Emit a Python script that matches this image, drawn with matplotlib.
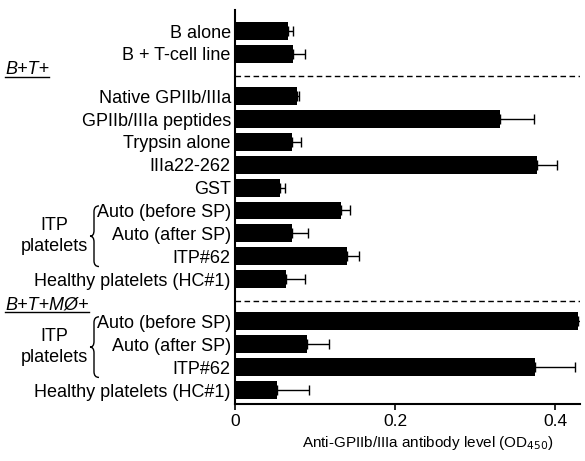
import matplotlib
matplotlib.use("Agg")
import matplotlib.pyplot as plt
import numpy as np
from matplotlib.path import Path
from matplotlib.patches import PathPatch
from matplotlib.lines import Line2D

plt.rcParams['font.family'] = ['Liberation Sans', 'DejaVu Sans']

# ---- data ----
group1_labels = ["B alone", "B + T-cell line"]
group1_values = [0.066, 0.072]
group1_errors = [0.0065, 0.016]

group2_labels = ["Native GPIIb/IIIa", "GPIIb/IIIa peptides", "Trypsin alone",
                 "IIIa22-262", "GST", "Auto (before SP)", "Auto (after SP)",
                 "ITP#62", "Healthy platelets (HC#1)"]
group2_values = [0.0775, 0.331, 0.071, 0.378, 0.056, 0.132, 0.071, 0.140, 0.064]
group2_errors = [0.002, 0.043, 0.012, 0.025, 0.006, 0.012, 0.020, 0.015, 0.023]

group3_labels = ["Auto (before SP)", "Auto (after SP)", "ITP#62",
                 "Healthy platelets (HC#1)"]
group3_values = [0.429, 0.090, 0.375, 0.053]
group3_errors = [0.007, 0.028, 0.050, 0.040]

section_titles = ["B+T+", "B+T+MØ+"]
bracket_label = "ITP\nplatelets"
xticks = [0, 0.2, 0.4]
xtick_labels = ["0", "0.2", "0.4"]
xlabel = "Anti-GPIIb/IIIa antibody level (OD$_{450}$)"

# ---- layout ----
FS = 13
groups = [(group1_labels, group1_values, group1_errors),
          (group2_labels, group2_values, group2_errors),
          (group3_labels, group3_values, group3_errors)]
labels, values, errors, pos = [], [], [], []
dash_pos = []
p = 0.0
for gi, (l, v, e) in enumerate(groups):
    if gi > 0:
        dash_pos.append(p - 1 + 0.97)
        p = p - 1 + 1.85
    for li, vi, ei in zip(l, v, e):
        labels.append(li); values.append(vi); errors.append(ei); pos.append(p)
        p += 1
pos = np.array(pos)

W, H = 585, 461
fig = plt.figure(figsize=(W / 100, H / 100), dpi=100)
ax = fig.add_axes([235 / W, 1 - 404 / H, (580 - 235) / W, (404 - 10) / H])

ax.barh(pos, values, height=0.78, color='black', linewidth=0)
ax.errorbar(values, pos, xerr=[np.zeros(len(errors)), errors], fmt='none',
            ecolor='black', elinewidth=1, capsize=3.5, capthick=1)

top, bot = pos[0], pos[-1]
scale = (390 - 31) / (bot - top)
ax.set_ylim(bot + 14 / scale, top - 21 / scale)
ax.set_xlim(0, (580 - 235) / 800)

ax.set_yticks(pos)
ax.set_yticklabels(labels, fontsize=FS)
ax.tick_params(axis='y', length=0, pad=3)
ax.set_xticks(xticks)
ax.set_xticklabels(xtick_labels, fontsize=12.5)
ax.tick_params(axis='x', length=4, width=1.2, direction='out', pad=3)
ax.set_xlabel(xlabel, fontsize=11, labelpad=2)
ax.xaxis.set_label_coords(0.559, -0.075)

for s in ['top', 'right']:
    ax.spines[s].set_visible(False)
for s in ['left', 'bottom']:
    ax.spines[s].set_linewidth(1.5)

for d in dash_pos:
    ax.axhline(d, color='black', linewidth=1, linestyle=(0, (4, 2.5)))

yt = ax.get_yaxis_transform()

# section titles (italic, underlined)
title_y = [dash_pos[0] - 0.08, dash_pos[1] + 0.35]
title_texts = []
for t, y in zip(section_titles, title_y):
    tt = ax.text((5 - 235) / 345, y, t, transform=yt, fontsize=FS,
                 style='italic', ha='left', va='baseline', clip_on=False)
    title_texts.append(tt)

# ITP platelets labels with braces
n1 = len(group1_labels)
n2 = len(group2_labels)
auto_idx = [n1 + 5, n1 + n2 + 0]
for ai in auto_idx:
    ymid = pos[ai + 1]
    ax.text((54 - 235) / 345, ymid + 0.1, bracket_label, transform=yt,
            fontsize=FS, ha='center', va='center', linespacing=1.3,
            clip_on=False)
    y0 = pos[ai] - 0.2
    y1 = pos[ai + 2] + 0.45
    ym = (y0 + y1) / 2
    xr = (99 - 235) / 345
    xm = (94 - 235) / 345
    xl = (90 - 235) / 345
    c = 0.25
    verts = [(xr, y0), (xm, y0), (xm, y0 + c),
             (xm, ym - c),
             (xm, ym), (xl, ym), (xl, ym),
             (xl, ym), (xm, ym), (xm, ym + c),
             (xm, y1 - c),
             (xm, y1), (xr, y1), (xr, y1)]
    codes = [Path.MOVETO, Path.CURVE3, Path.CURVE3,
             Path.LINETO,
             Path.CURVE3, Path.CURVE3, Path.LINETO,
             Path.MOVETO, Path.CURVE3, Path.CURVE3,
             Path.LINETO,
             Path.CURVE3, Path.CURVE3, Path.LINETO]
    ax.add_patch(PathPatch(Path(verts, codes), transform=yt, fill=False,
                           edgecolor='black', linewidth=1, clip_on=False))

fig.canvas.draw()
r = fig.canvas.get_renderer()
for tt in title_texts:
    bb = tt.get_window_extent(renderer=r)
    x0, x1 = bb.x0 / W, bb.x1 / W
    yb = (bb.y0 + 1) / H
    fig.add_artist(Line2D([x0, x1], [yb, yb], color='black', linewidth=1))

fig.savefig("out.png", dpi=100)
